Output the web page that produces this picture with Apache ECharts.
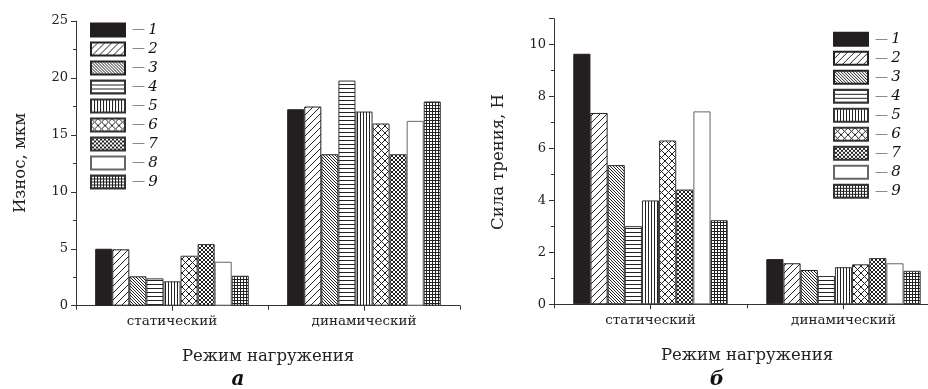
<!DOCTYPE html>
<html>
<head>
<meta charset="utf-8">
<script src="https://cdn.jsdelivr.net/npm/echarts@6/dist/echarts.min.js"></script>
<style>
html,body{margin:0;padding:0;background:#fff;overflow:hidden;width:928px;height:389px;}
#c{width:940px;height:389px;}
</style>
</head>
<body>
<div id="c"></div>
<script>
// ---- data ----
const categories = ['статический', 'динамический'];
const seriesNames = ['1', '2', '3', '4', '5', '6', '7', '8', '9'];
const wearStatic = [5.0, 4.95, 2.58, 2.4, 2.14, 4.39, 5.41, 3.86, 2.63];
const wearDynamic = [17.25, 17.49, 13.3, 19.77, 17.05, 16.0, 13.3, 16.23, 17.93];
const frictionStatic = [9.65, 7.37, 5.36, 3.01, 4.0, 6.31, 4.42, 7.43, 3.24];
const frictionDynamic = [1.74, 1.58, 1.32, 1.09, 1.43, 1.54, 1.78, 1.58, 1.29];
const wearTicks = { min: 0, max: 25, interval: 5 };
const frictionTicks = { min: 0, max: 11, interval: 2 };
const xTitle = 'Режим нагружения';
const wearTitle = 'Износ, мкм';
const frictionTitle = 'Сила трения, Н';
const panelLabels = ['а', 'б'];

// ---- patterns ----
const INK = '#222';
function tile(w, h, draw) {
  const cv = document.createElement('canvas');
  cv.width = w; cv.height = h;
  const ctx = cv.getContext('2d');
  ctx.fillStyle = '#fff';
  ctx.fillRect(0, 0, w, h);
  ctx.strokeStyle = INK;
  ctx.lineWidth = 1;
  draw(ctx, w, h);
  return { image: cv, repeat: 'repeat' };
}
function fwd(ctx, s) { // "/"
  ctx.beginPath();
  for (let k = -1; k <= 1; k++) { ctx.moveTo(k * s, s); ctx.lineTo(k * s + s, 0); }
  ctx.stroke();
}
function back(ctx, s) { // "\"
  ctx.beginPath();
  for (let k = -1; k <= 1; k++) { ctx.moveTo(k * s, 0); ctx.lineTo(k * s + s, s); }
  ctx.stroke();
}
const fills = [
  '#231f20',
  tile(7, 7, (c, s) => fwd(c, s)),
  tile(3, 3, (c, s) => back(c, s)),
  tile(4, 4, (c, w) => { c.beginPath(); c.moveTo(0, 0.5); c.lineTo(w, 0.5); c.stroke(); }),
  tile(3, 3, (c, w, h) => { c.beginPath(); c.moveTo(0.5, 0); c.lineTo(0.5, h); c.stroke(); }),
  tile(7, 7, (c, s) => { fwd(c, s); back(c, s); }),
  tile(4, 4, (c, s) => { fwd(c, s); back(c, s); }),
  '#ffffff',
  tile(3, 3, (c, w, h) => { c.beginPath(); c.moveTo(0, 0.5); c.lineTo(w, 0.5); c.moveTo(0.5, 0); c.lineTo(0.5, h); c.stroke(); })
];
const borders = ['#231f20', '#222', '#222', '#333', '#333', '#333', '#333', '#666', '#333'];

const SERIF = '"DejaVu Serif", "Liberation Serif", serif';
const AXC = '#333';

function valueAxis(gridIndex, t) {
  return {
    type: 'value', gridIndex, min: t.min, max: t.max, interval: t.interval,
    axisLine: { show: true, lineStyle: { color: AXC, width: 1 } },
    axisTick: { show: true, inside: false, length: 5, lineStyle: { color: AXC } },
    minorTick: { show: true, splitNumber: 2, length: 3, lineStyle: { color: AXC } },
    splitLine: { show: false },
    axisLabel: { fontFamily: SERIF, fontSize: 13, color: '#222', margin: 8, showMaxLabel: t.max % t.interval === 0 }
  };
}
function catAxis(gridIndex) {
  return {
    type: 'category', gridIndex, data: categories,
    axisLine: { show: true, lineStyle: { color: AXC, width: 1 } },
    axisTick: { show: true, alignWithLabel: true, length: 5, lineStyle: { color: AXC } },
    axisLabel: { fontFamily: SERIF, fontSize: 13.5, color: '#222', margin: 9 },
    name: xTitle, nameLocation: 'middle', nameGap: 43,
    nameTextStyle: { fontFamily: SERIF, fontSize: 16.5, color: '#222' }
  };
}
function tickAxis(gridIndex) {
  return {
    type: 'category', gridIndex, data: categories, position: 'bottom',
    axisLine: { show: false },
    axisTick: { show: true, length: 4, lineStyle: { color: AXC } },
    axisLabel: { show: false }
  };
}

const series = [];
seriesNames.forEach((n, i) => {
  const style = { color: fills[i], borderColor: borders[i], borderWidth: 1 };
  series.push({ name: n, type: 'bar', xAxisIndex: 0, yAxisIndex: 0, barGap: 0, barCategoryGap: '20%',
    data: [wearStatic[i], wearDynamic[i]], itemStyle: style, emphasis: { disabled: true } });
});
seriesNames.forEach((n, i) => {
  const style = { color: fills[i], borderColor: borders[i], borderWidth: 1 };
  series.push({ name: n, type: 'bar', xAxisIndex: 2, yAxisIndex: 1, barGap: 0, barCategoryGap: '20%',
    data: [frictionStatic[i], frictionDynamic[i]], itemStyle: style, emphasis: { disabled: true } });
});

function legend(left, top) {
  return {
    data: seriesNames.map(n => ({ name: n, icon: 'rect' })), orient: 'vertical', left, top, padding: 0,
    itemWidth: 34, itemHeight: 13, itemGap: 4, selectedMode: false,
    formatter: n => '{d|—} {n|' + n + '}',
    textStyle: {
      lineHeight: 13, padding: [0, 0, 0, 2],
      rich: {
        d: { color: '#777', fontSize: 13, fontFamily: SERIF, lineHeight: 13 },
        n: { color: '#111', fontSize: 15, fontStyle: 'italic', fontFamily: SERIF, lineHeight: 13 }
      }
    }
  };
}

const chart = echarts.init(document.getElementById('c'), null, { renderer: 'canvas' });
chart.setOption({
  animation: false,
  backgroundColor: '#fff',
  grid: [
    { left: 76, right: 480, top: 21, bottom: 83.3 },
    { left: 554, right: 0, top: 18.7, bottom: 84.7 }
  ],
  xAxis: [catAxis(0), tickAxis(0), catAxis(1), tickAxis(1)],
  yAxis: [valueAxis(0, wearTicks), valueAxis(1, frictionTicks)],
  legend: [legend(90, 22.5), legend(833, 31.8)],
  series,
  graphic: [
    { type: 'text', x: 21, y: 163, rotation: Math.PI / 2,
      style: { text: wearTitle, font: '16.5px ' + SERIF, fill: '#222', align: 'center', verticalAlign: 'middle' } },
    { type: 'text', x: 499, y: 162, rotation: Math.PI / 2,
      style: { text: frictionTitle, font: '16.5px ' + SERIF, fill: '#222', align: 'center', verticalAlign: 'middle' } },
    { type: 'text', x: 238, y: 380,
      style: { text: panelLabels[0], font: 'italic bold 20px ' + SERIF, fill: '#111', align: 'center', verticalAlign: 'middle' } },
    { type: 'text', x: 717, y: 380,
      style: { text: panelLabels[1], font: 'italic bold 20px ' + SERIF, fill: '#111', align: 'center', verticalAlign: 'middle' } }
  ]
});
</script>
</body>
</html>
